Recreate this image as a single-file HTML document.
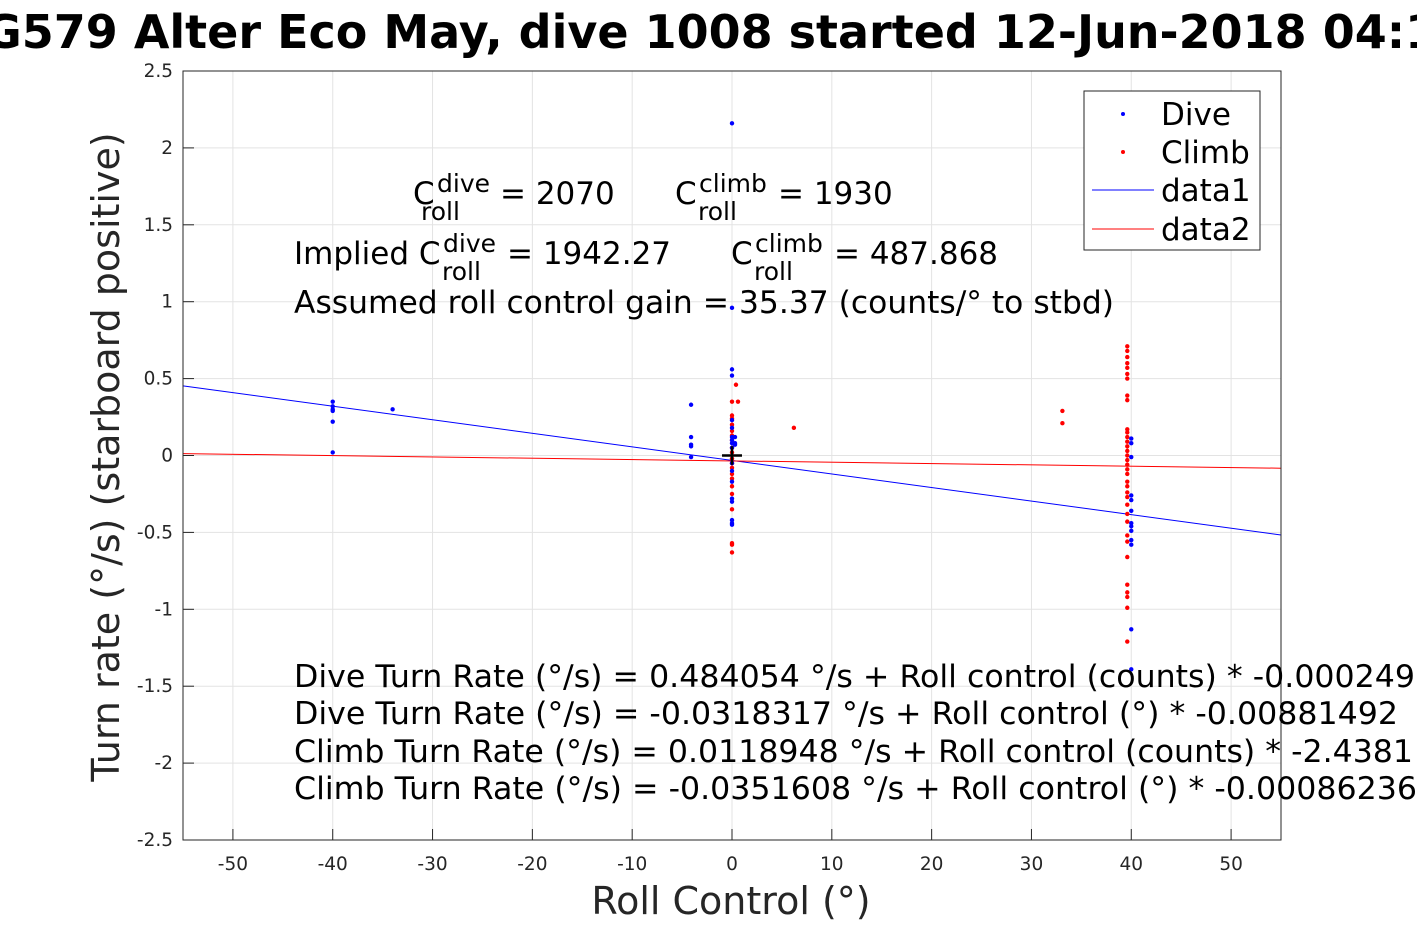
<!DOCTYPE html>
<html><head><meta charset="utf-8"><style>
html,body{margin:0;padding:0;background:#fff;}
svg{display:block;font-family:"DejaVu Sans","Liberation Sans",sans-serif;}
</style></head><body>
<svg id="chart" width="1417" height="945" viewBox="0 0 1417 945">
<rect width="1417" height="945" fill="#fff"/>
<text x="710" y="48" font-size="46" font-weight="bold" text-anchor="middle">SG579 Alter Eco May, dive 1008 started 12-Jun-2018 04:15</text>
<g id="grid"></g>
<g id="ticks"></g>
<g id="lines"></g>
<g id="points"></g>
<rect x="183" y="71" width="1098" height="769" fill="none" stroke="#262626" stroke-width="1"/>
<text x="731" y="914" font-size="38" text-anchor="middle" fill="#262626">Roll Control (°)</text>
<text transform="translate(119,457) rotate(-90)" font-size="38" text-anchor="middle" fill="#262626">Turn rate (°/s) (starboard positive)</text>
<g font-size="31" fill="#000">
<text x="413" y="204">C<tspan font-size="25" x="437" dy="-12">dive</tspan><tspan font-size="25" x="421" dy="28">roll</tspan><tspan x="500" dy="-16">= 2070</tspan></text>
<text x="675" y="204">C<tspan font-size="25" x="699" dy="-12">climb</tspan><tspan font-size="25" x="698" dy="28">roll</tspan><tspan x="778" dy="-16">= 1930</tspan></text>
<text x="294" y="264">Implied C<tspan font-size="25" x="443" dy="-12">dive</tspan><tspan font-size="25" x="442" dy="28">roll</tspan><tspan x="507" dy="-16">= 1942.27</tspan></text>
<text x="731" y="264">C<tspan font-size="25" x="755" dy="-12">climb</tspan><tspan font-size="25" x="754" dy="28">roll</tspan><tspan x="834" dy="-16">= 487.868</tspan></text>
<text x="294" y="313" textLength="820" lengthAdjust="spacingAndGlyphs">Assumed roll control gain = 35.37 (counts/° to stbd)</text>
<text x="294" y="687" textLength="1121" lengthAdjust="spacingAndGlyphs">Dive Turn Rate (°/s) = 0.484054 °/s + Roll control (counts) * -0.000249</text>
<text x="294" y="724" textLength="1104" lengthAdjust="spacingAndGlyphs">Dive Turn Rate (°/s) = -0.0318317 °/s + Roll control (°) * -0.00881492</text>
<text x="294" y="762" textLength="1119" lengthAdjust="spacingAndGlyphs">Climb Turn Rate (°/s) = 0.0118948 °/s + Roll control (counts) * -2.4381</text>
<text x="294" y="799" textLength="1123" lengthAdjust="spacingAndGlyphs">Climb Turn Rate (°/s) = -0.0351608 °/s + Roll control (°) * -0.00086236</text>
</g>
<g>
<rect x="1084" y="91" width="176" height="159" fill="#fff" stroke="#262626"/>
<circle cx="1123" cy="114" r="2" fill="#0000ff"/>
<text x="1161" y="125" font-size="31">Dive</text>
<circle cx="1123" cy="152" r="2" fill="#ff0000"/>
<text x="1161" y="163" font-size="31">Climb</text>
<line x1="1092" y1="190" x2="1154" y2="190" stroke="#0000ff"/>
<text x="1161" y="201" font-size="31">data1</text>
<line x1="1092" y1="229" x2="1154" y2="229" stroke="#ff0000"/>
<text x="1161" y="240" font-size="31">data2</text>
</g>
</svg>
<script>
const xTicks = [-50,-40,-30,-20,-10,0,10,20,30,40,50];
const yTicks = [-2.5,-2,-1.5,-1,-0.5,0,0.5,1,1.5,2,2.5];
const diveX = [-40,-40,-40,-40,-40,-40,-34,-4.1,-4.1,-4.1,-4.1,-4.1,0,0,0,0,0,0,0,0,0,0,0,0,0,0,0,0,0,0,0.3,0.3,0.3,40,40,40,40,40,40,40,40,40,40,40,40,40];
const diveY = [0.35,0.32,0.30,0.29,0.22,0.02,0.30,0.33,0.12,0.07,0.06,-0.01,2.16,0.96,0.56,0.52,0.23,0.18,0.12,0.10,0.05,-0.05,-0.10,-0.17,-0.28,-0.30,-0.42,-0.44,0.08,-0.45,0.12,0.08,0.07,0.11,0.08,-0.01,-0.26,-0.29,-0.36,-0.44,-0.46,-0.49,-0.55,-0.58,-1.13,-1.39];
const climbX = [0.4,0,0,0,0,0,0,0,0,0,0,0,0,0,0,0,0,0,0,0,0,0.6,6.2,33.1,33.1,39.6,39.6,39.6,39.6,39.6,39.6,39.6,39.6,39.6,39.6,39.6,39.6,39.6,39.6,39.6,39.6,39.6,39.6,39.6,39.6,39.6,39.6,39.6,39.6,39.6,39.6,39.6,39.6,39.6,39.6,39.6,39.6,39.6,39.6,39.6];
const climbY = [0.46,0.35,0.26,0.24,0.20,0.16,0.13,0.10,0.05,0.02,-0.02,-0.05,-0.08,-0.12,-0.15,-0.20,-0.25,-0.35,-0.57,-0.58,-0.63,0.35,0.18,0.29,0.21,0.71,0.68,0.64,0.60,0.57,0.53,0.50,0.39,0.36,0.17,0.15,0.12,0.09,0.06,0.03,0.0,-0.03,-0.06,-0.09,-0.12,-0.17,-0.20,-0.24,-0.27,-0.32,-0.38,-0.43,-0.52,-0.56,-0.66,-0.84,-0.89,-0.92,-0.99,-1.21];
const diveFit = [-0.0318317,-0.00881492];
const climbFit = [-0.0351608,-0.00086236];
const xDomain = [-55,55];
const yDomain = [-2.5,2.5];
const NS='http://www.w3.org/2000/svg';
function sx(v){return 183+(v-xDomain[0])/(xDomain[1]-xDomain[0])*1098;}
function sy(v){return 840-(v-yDomain[0])/(yDomain[1]-yDomain[0])*769;}
function mk(tag,attrs,parent){const e=document.createElementNS(NS,tag);for(const k in attrs)e.setAttribute(k,attrs[k]);document.getElementById(parent).appendChild(e);return e;}
xTicks.forEach(t=>{
  const g=mk('line',{x1:sx(t),x2:sx(t),y1:71,y2:840,stroke:'#e3e3e3'},'grid');
  
  
  const tk=mk('line',{x1:sx(t),x2:sx(t),y1:840,y2:829,stroke:'#262626'},'ticks');
  
  
  const l=mk('text',{x:sx(t),y:870,'font-size':18.5,'text-anchor':'middle',fill:'#262626'},'ticks');
  l.textContent=t;
  
  
});
yTicks.forEach(t=>{
  const g=mk('line',{x1:183,x2:1281,y1:sy(t),y2:sy(t),stroke:'#e3e3e3'},'grid');
  
  
  const tk=mk('line',{x1:183,x2:194,y1:sy(t),y2:sy(t),stroke:'#262626'},'ticks');
  
  
  const l=mk('text',{x:173,y:sy(t)+6,'font-size':18.5,'text-anchor':'end',fill:'#262626'},'ticks');
  l.textContent=t;
  
  
});
function fitLine(f,color,name){
  const ln=mk('line',{x1:sx(xDomain[0]),y1:sy(f[0]+f[1]*xDomain[0]),x2:sx(xDomain[1]),y2:sy(f[0]+f[1]*xDomain[1]),stroke:color,'stroke-width':1},'lines');
  
  
}
fitLine(diveFit,'#0000ff','dive-fit-line');
fitLine(climbFit,'#ff0000','climb-fit-line');
climbX.forEach((x,i)=>{
  const c=mk('circle',{cx:sx(x),cy:sy(climbY[i]),r:2.2,fill:'#ff0000'},'points');
  
  
});
diveX.forEach((x,i)=>{
  const c=mk('circle',{cx:sx(x),cy:sy(diveY[i]),r:2.2,fill:'#0000ff'},'points');
  
  
});
const ph=mk('path',{d:`M${sx(-1)} ${sy(0)}H${sx(1)}M${sx(0)} ${sy(0.06)}V${sy(-0.06)}`,stroke:'#000','stroke-width':2.5},'points');


</script>
</body></html>
